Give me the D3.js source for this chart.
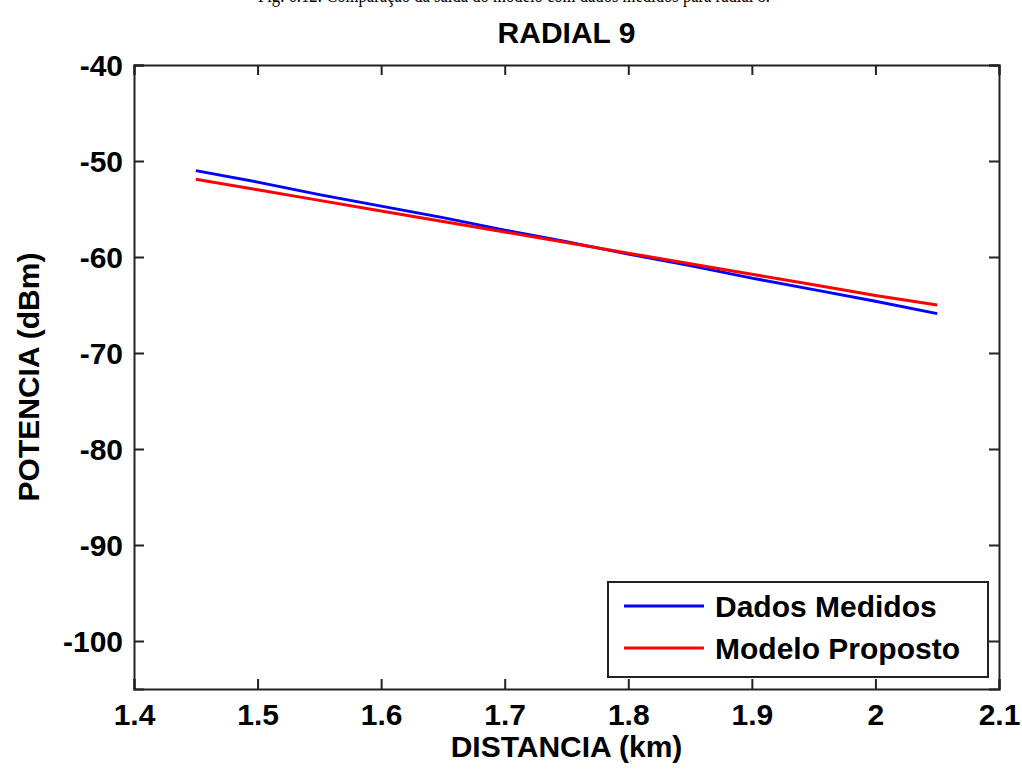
<!DOCTYPE html>
<html>
<head>
<meta charset="utf-8">
<script src="https://cdn.jsdelivr.net/npm/d3@7"></script>
<style>
  body { margin: 0; background: #fff; }
  svg text { font-family: "Liberation Sans", Arial, sans-serif; }
</style>
</head>
<body>
<div id="chart"></div>
<script>
// distance (km) and power (dBm)
const distancia = [1.45, 1.50, 1.55, 1.60, 1.65, 1.70, 1.75, 1.80, 1.85, 1.90, 1.95, 2.00, 2.05];
const dadosMedidos = [-51.0, -52.2, -53.5, -54.7, -55.9, -57.2, -58.4, -59.7, -60.9, -62.2, -63.4, -64.6, -65.9];
const modeloProposto = [-51.9, -53.0, -54.1, -55.2, -56.3, -57.4, -58.5, -59.6, -60.7, -61.8, -62.9, -64.0, -65.0];
const xTicks = [1.4, 1.5, 1.6, 1.7, 1.8, 1.9, 2, 2.1];
const yTicks = [-100, -90, -80, -70, -60, -50, -40];
const seriesNames = ["Dados Medidos", "Modelo Proposto"];
const seriesColors = ["#0000ff", "#ff0000"];

const width = 1022, height = 769;
const margin = {left: 134, right: 23, top: 65, bottom: 80};

const svg = d3.select("#chart")
    .append("svg")
    .attr("width", width)
    .attr("height", height)

const x = d3.scaleLinear().domain([1.4, 2.1]).range([margin.left, width - margin.right])
const y = d3.scaleLinear().domain([-105, -40]).range([height - margin.bottom, margin.top])

// caption of the page, cut off at the top
svg.append("text")
    .attr("x", 258).attr("y", 2)
    .attr("textLength", 512).attr("lengthAdjust", "spacingAndGlyphs")
    .style("font-family", "'Liberation Serif', 'Times New Roman', serif")
    .style("font-size", "21px")
    .text("Fig. 6.12: Comparação da saída do modelo com dados medidos para radial 8.")

svg.append("text")
    .attr("x", (margin.left + width - margin.right) / 2)
    .attr("y", 43)
    .attr("text-anchor", "middle")
    .style("font-size", "30px").style("font-weight", "bold")
    .text("RADIAL 9")

// plain hyphen for the minus sign, like the original
const fmt = d => String(d)

// axes, ticks inside, box round the plot
const tickLen = 10
const gx = svg.append("g")
    .attr("transform", "translate(0," + y.range()[0] + ")")
    .call(d3.axisBottom(x).tickValues(xTicks).tickSize(-tickLen).tickPadding(14).tickFormat(fmt))
const gxTop = svg.append("g")
    .attr("transform", "translate(0," + y.range()[1] + ")")
    .call(d3.axisTop(x).tickValues(xTicks).tickSize(-tickLen).tickFormat(""))
const gy = svg.append("g")
    .attr("transform", "translate(" + x.range()[0] + ",0)")
    .call(d3.axisLeft(y).tickValues(yTicks).tickSize(-tickLen).tickPadding(11).tickFormat(fmt))
const gyRight = svg.append("g")
    .attr("transform", "translate(" + x.range()[1] + ",0)")
    .call(d3.axisRight(y).tickValues(yTicks).tickSize(-tickLen).tickFormat(""))

svg.selectAll(".domain").attr("stroke", "#222").attr("stroke-width", 2)
svg.selectAll(".tick line").attr("stroke", "#222").attr("stroke-width", 2)
svg.selectAll(".tick text")
    .attr("fill", "#000")
    .style("font-size", "30px").style("font-weight", "bold")
    .style("font-family", "'Liberation Sans', Arial, sans-serif")
gx.selectAll(".tick text").attr("dy", "0.72em")
gy.selectAll(".tick text").attr("dy", "0.36em")

// axis labels
svg.append("text")
    .attr("x", (margin.left + width - margin.right) / 2)
    .attr("y", 757)
    .attr("text-anchor", "middle")
    .style("font-size", "30px").style("font-weight", "bold")
    .text("DISTANCIA (km)")

svg.append("text")
    .attr("transform", "translate(39," + (margin.top + height - margin.bottom) / 2 + ") rotate(-90)")
    .attr("text-anchor", "middle")
    .style("font-size", "30px").style("font-weight", "bold")
    .text("POTENCIA (dBm)")

// data lines
const line = d3.line()
    .x((d, i) => x(distancia[i]))
    .y(d => y(d))

;[dadosMedidos, modeloProposto].forEach(function (serie, k) {
    svg.append("path")
        .datum(serie)
        .attr("fill", "none")
        .attr("stroke", seriesColors[k])
        .attr("stroke-width", 3)
        .attr("d", line)
})

// legend
const legend = svg.append("g")
legend.append("rect")
    .attr("x", 608).attr("y", 582)
    .attr("width", 380).attr("height", 95)
    .attr("fill", "#fff").attr("stroke", "#222").attr("stroke-width", 2)

seriesNames.forEach(function (name, k) {
    const ly = 606 + k * 42
    legend.append("line")
        .attr("x1", 624).attr("x2", 704)
        .attr("y1", ly).attr("y2", ly)
        .attr("stroke", seriesColors[k]).attr("stroke-width", 3)
    legend.append("text")
        .attr("x", 715).attr("y", ly)
        .attr("dy", "0.36em")
        .style("font-size", "30px").style("font-weight", "bold")
        .text(name)
})
</script>
</body>
</html>
